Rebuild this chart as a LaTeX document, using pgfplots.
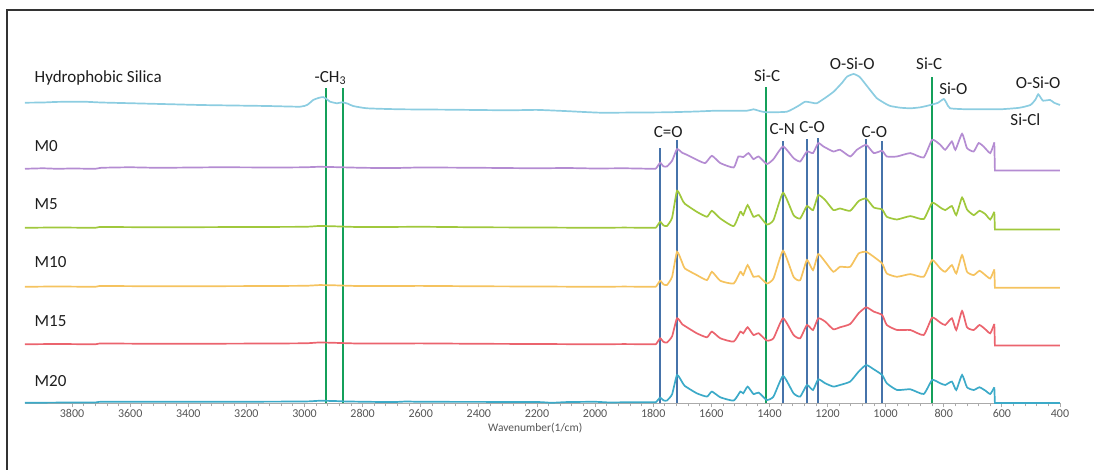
\documentclass[border=0pt]{standalone}
\usepackage{fontspec}
\setmainfont{Carlito}
\usepackage{pgfplots}
\pgfplotsset{compat=1.18}
\definecolor{csil}{HTML}{8CCDE1}
\definecolor{cmz}{HTML}{B48CD2}
\definecolor{cmf}{HTML}{A0C83C}
\definecolor{cmt}{HTML}{F5C35F}
\definecolor{cmq}{HTML}{EB646E}
\definecolor{cmw}{HTML}{3CAAC8}
\definecolor{vgreen}{HTML}{14A05A}
\definecolor{vblue}{HTML}{4673AA}
\definecolor{axgray}{HTML}{AAAAAA}
\definecolor{ticktext}{HTML}{555555}
\definecolor{labtext}{HTML}{1E1E1E}
\newcommand{\lab}{\fontsize{8.5}{10}\selectfont}
\begin{document}
\begin{tikzpicture}
\useasboundingbox (0,0) rectangle (547pt,235pt);
\draw[line width=1pt, black!80] (3.5pt,0) -- (3.5pt,230pt) -- (547pt,230pt);
\begin{axis}[
 at={(12.5pt,33.35pt)}, anchor=south west,
 scale only axis, width=517.5pt, height=196.5pt,
 x dir=reverse, xmin=400, xmax=3962, ymin=0, ymax=393,
 axis x line=bottom, axis y line=none,
 x axis line style={-, draw=axgray, line width=0.6pt},
 xtick={400,600,...,3800},
 minor x tick num=4,
 tick align=outside,
 major tick length=2pt, minor tick length=1.5pt,
 every tick/.style={axgray, line width=0.4pt},
 xticklabel style={font=\fontsize{6}{7}\selectfont, text=ticktext, yshift=2.3pt},
 /pgf/number format/assume math mode=true,
 /pgf/number format/1000 sep={},
 clip=false,
 every axis plot/.append style={line width=0.85pt},
 spec/.style={smooth, tension=0.3},
]
% vertical marker lines
\addplot[vgreen, line width=1pt] coordinates {(2926,0) (2926,315)};
\addplot[vgreen, line width=1pt] coordinates {(2867,0) (2867,315)};
\addplot[vgreen, line width=1pt] coordinates {(1411,0) (1411,316.6)};
\addplot[vgreen, line width=1pt] coordinates {(841,0) (841,326.6)};
\addplot[vblue, line width=1pt] coordinates {(1776,0) (1776,255.3)};
\addplot[vblue, line width=1pt] coordinates {(1718,0) (1718,263.3)};
\addplot[vblue, line width=1pt] coordinates {(1353,0) (1353,262.3)};
\addplot[vblue, line width=1pt] coordinates {(1270,0) (1270,264.3)};
\addplot[vblue, line width=1pt] coordinates {(1232,0) (1232,265.3)};
\addplot[vblue, line width=1pt] coordinates {(1067,0) (1067,264.3)};
\addplot[vblue, line width=1pt] coordinates {(1012,0) (1012,262.3)};
% Hydrophobic silica
\addplot[csil, spec] coordinates {
(3962,300.6)(3900,300.8)(3850,301.4)(3762,301.6)(3700,300.8)(3590,300.0)(3480,299.2)(3359,298.3)(3250,297.8)(3129,297.3)(3015,296.6)
(2990,298.5)(2970,303.3)(2950,305.5)(2936,306.2)(2925,304.5)(2912,301.6)(2888,300.0)(2870,301.0)(2850,299.5)(2833,297.3)(2785,295.0)(2671,294.0)
(2500,293.6)(2300,293.0)(2200,293.4)(2100,292.2)(1982,290.6)(1850,290.8)(1753,291.0)(1650,291.8)(1581,292.6)(1477,292.6)(1455,294.0)(1430,292.0)(1409,291.0)
(1340,291.6)(1300,297.5)(1277,301.6)(1250,300.4)(1237,300.0)(1210,305.0)(1179,311.6)(1150,320.5)(1133,326.6)(1110,329.3)(1090,326.5)(1076,321.6)
(1050,312.0)(1030,305.0)(1000,299.5)(984,297.3)(950,295.6)(915,295.0)(880,296.0)(846,298.3)(820,300.5)(800,304.3)(790,300.0)(778,295.0)
(720,294.0)(660,294.0)(605,294.0)(540,295.5)(502,298.3)(485,303.5)(475,309.0)(465,305.0)(458,302.6)(434,303.3)(420,300.5)(400,298.3)};
% M0
\addplot[cmz, spec] coordinates {
(3962,234.5)(3900,235)(3850,234.5)(3800,234.8)(3720,234.5)(3700,235.5)(3600,236)(3500,235.5)(3300,236)(3100,235.8)(3000,236)(2950,236.5)(2900,236.2)(2800,235.5)(2700,235.2)(2600,235.8)(2400,235.5)(2200,235)(2100,235.3)(2000,234.8)(1900,235)(1800,234.5)
(1790,235)(1776,240.5)(1765,237)(1753,236.8)(1735,242.5)(1718,254.2)(1700,250.5)(1684,248.5)(1650,243.5)(1621,240.2)(1598,247.5)(1569,240.2)(1523,235.8)(1507,246.8)(1490,246.2)(1472,250.2)(1455,244.2)(1437,246.8)(1409,239.2)(1386,244.2)(1353,256.8)(1317,245.2)(1294,241.8)(1271,251.8)(1250,250.2)(1232,260.2)(1214,256.8)(1180,251.8)(1157,253.5)(1122,246.8)(1099,253.5)(1067,258.5)(1041,250.2)(1012,252.5)(996,246.8)(961,246.8)(915,250.2)(869,245.8)(840,263.5)(812,258.5)(795,253.5)(772,261.8)(760,253.5)(737,269.5)(720,255.2)(697,251.8)(680,260.2)(663,256.8)(640,250.2)(626,260.8)};
\addplot[cmz] coordinates {(626,260.8)(624,232.8)(400,232.8)};
% M5
\addplot[cmf, spec] coordinates {
(3962,175.5)(3850,175.8)(3720,175.5)(3700,176.3)(3500,176)(3200,176.3)(3000,176.5)(2950,177.3)(2900,177)(2800,176.2)(2600,176.5)(2400,176)(2200,175.8)(2000,175.5)(1900,175.7)(1800,175.5)
(1790,175.8)(1776,181.5)(1765,178)(1753,177.2)(1735,185.5)(1718,212.5)(1700,203.5)(1691,199.5)(1650,191.5)(1615,186.5)(1598,192.5)(1569,184.8)(1523,177.2)(1500,191.5)(1490,188.2)(1475,198.2)(1455,186.5)(1437,188.2)(1409,178.8)(1386,183.2)(1353,210.5)(1317,188.2)(1294,184.8)(1271,197.2)(1250,193.2)(1232,208.2)(1208,203.2)(1180,193.2)(1157,194.8)(1122,192.5)(1093,202.2)(1067,204.8)(1041,195.8)(1012,193.8)(996,186.5)(961,183.8)(915,187.2)(869,184.2)(840,200.5)(812,195.8)(795,193.2)(772,197.2)(757,188.2)(737,205.8)(720,193.8)(697,188.2)(677,192.5)(657,189.2)(640,183.8)(626,191.5)};
\addplot[cmf] coordinates {(626,191.5)(624,173.8)(400,173.8)};
% M10
\addplot[cmt, spec] coordinates {
(3962,116.5)(3850,116.8)(3720,116.5)(3700,117.3)(3500,117)(3200,117.2)(3000,117.5)(2950,118.2)(2900,118)(2800,117.2)(2600,117.4)(2400,117)(2200,116.8)(2000,116.5)(1900,116.7)(1800,116.5)
(1790,116.8)(1776,122.5)(1765,119)(1753,118.2)(1735,126.5)(1718,151.5)(1700,140.5)(1691,134.8)(1650,128.2)(1615,123.2)(1598,131.5)(1569,122.5)(1523,119.8)(1500,131.5)(1490,128.2)(1475,138.2)(1455,126.5)(1437,127.2)(1409,119.8)(1386,124.8)(1353,152.5)(1317,126.5)(1294,123.2)(1271,143.2)(1250,133.2)(1232,149.2)(1208,141.5)(1180,131.5)(1157,136.5)(1122,136.5)(1093,149.8)(1067,151.5)(1041,146.5)(1012,139.8)(996,129.8)(961,126.5)(915,129.2)(869,126.5)(840,143.2)(812,134.8)(795,131.5)(772,138.2)(757,129.8)(737,148.2)(720,131.5)(697,128.2)(677,132.5)(657,128.2)(640,124.8)(626,133.8)};
\addplot[cmt] coordinates {(626,133.8)(624,115.5)(400,115.5)};
% M15
\addplot[cmq, spec] coordinates {
(3962,59)(3850,59.3)(3720,59)(3700,59.8)(3500,59.5)(3200,59.7)(3000,60)(2950,60.8)(2900,60.5)(2800,59.7)(2600,59.9)(2400,59.5)(2200,59.3)(2000,59)(1900,59.2)(1800,59)
(1790,59.3)(1776,65)(1765,61.5)(1753,60.7)(1735,67)(1718,85)(1700,79)(1691,77.3)(1650,70)(1615,66)(1598,71.7)(1569,65)(1523,61.7)(1500,71.7)(1490,70)(1475,76)(1455,68.3)(1437,70)(1409,62.7)(1386,65)(1353,85)(1317,68.3)(1294,65)(1271,78.3)(1250,73.3)(1232,85)(1208,81.7)(1180,74)(1157,76)(1122,79.3)(1093,90)(1067,96)(1041,91.7)(1012,88.3)(996,78.3)(961,73.3)(915,73.3)(869,68.3)(840,85.7)(812,80.7)(795,78.3)(772,85)(757,73.3)(737,92.3)(720,76)(697,73.3)(677,78.3)(657,74)(640,70)(626,79.3)};
\addplot[cmq] coordinates {(626,79.3)(624,57.7)(400,57.7)};
% M20
\addplot[cmw, spec] coordinates {
(3962,0.5)(3850,0.7)(3720,0.8)(3700,1.5)(3500,1.5)(3200,1.6)(3000,1.8)(2950,2.5)(2900,2.3)(2850,1.8)(2700,1.2)(2650,1.8)(2600,1.5)(2400,1.4)(2200,1.3)(2150,0.5)(2100,1.2)(2000,1.5)(1950,0.8)(1900,1)(1800,1)
(1790,1.3)(1776,5.7)(1765,3)(1753,2.7)(1735,9)(1718,28.3)(1700,21)(1691,17.3)(1650,10)(1615,6.7)(1598,11.7)(1569,6)(1523,2.7)(1500,11.7)(1490,10)(1475,16.7)(1455,9.3)(1437,10.7)(1409,3.3)(1386,6.7)(1353,27.3)(1317,10)(1294,6.7)(1271,18.3)(1250,13.3)(1232,24)(1208,20)(1180,16.7)(1157,18.3)(1122,21.7)(1093,31.7)(1067,38.3)(1041,34)(1012,28.3)(996,20)(961,13.3)(915,14)(869,9.3)(840,23.3)(812,20)(795,18.3)(772,21.7)(757,13.3)(737,28.3)(720,16)(697,13.3)(677,16)(657,12.7)(640,9.3)(626,16)};
\addplot[cmw] coordinates {(626,16)(624,0.3)(400,0.3)};
% series labels
\begin{scope}[every node/.style={font=\lab, text=labtext, inner sep=0pt}]
\node[anchor=base west] at (axis cs:3930,320.3) {Hydrophobic Silica};
\node[anchor=base west] at (axis cs:3930,251.8) {M0};
\node[anchor=base west] at (axis cs:3930,193.8) {M5};
\node[anchor=base west] at (axis cs:3930,135.8) {M10};
\node[anchor=base west] at (axis cs:3930,76.8) {M15};
\node[anchor=base west] at (axis cs:3930,16.3) {M20};
\node at (axis cs:2910,325.3) {-CH\textsubscript{3}};
\node at (axis cs:1408,327.3) {Si-C};
\node at (axis cs:1115,339.3) {O-Si-O};
\node at (axis cs:850,339.3) {Si-C};
\node at (axis cs:767,314.3) {Si-O};
\node at (axis cs:475,320.3) {O-Si-O};
\node at (axis cs:519,283.3) {Si-Cl};
\node at (axis cs:1748,271.3) {C=O};
\node at (axis cs:1356,274.3) {C-N};
\node at (axis cs:1253,276.3) {C-O};
\node at (axis cs:1039,271.3) {C-O};
\end{scope}
\node[font=\fontsize{5.75}{7}\selectfont, text=ticktext] at (axis cs:2206,-24.7) {Wavenumber(1/cm)};
\end{axis}
\end{tikzpicture}
\end{document}
